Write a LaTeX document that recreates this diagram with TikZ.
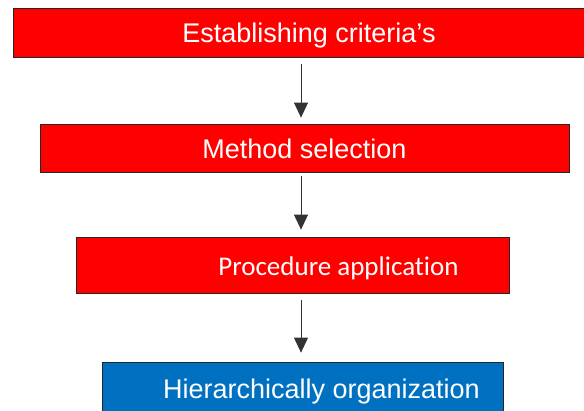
\documentclass[tikz,border=0pt]{standalone}
\usepackage{fontspec}
\setmainfont{Liberation Sans}
\newfontfamily\calibrifont[Ligatures=CommonOff]{Carlito}
\usepackage{xcolor}
\definecolor{stepred}{HTML}{FF0000}
\definecolor{stepblue}{HTML}{0070C0}
\usetikzlibrary{arrows.meta,positioning}

\begin{document}
\begin{tikzpicture}[
	x=1pt, y=-1pt,
	stage/.style = {shape=rectangle, draw=black!85, line width=0.8pt,
	text=white, inner sep=0pt, text height=20pt, text depth=0pt,
	font=\fontsize{27}{32}\selectfont},
	redbox/.style = {stage, fill=stepred},
	bluebox/.style = {stage, fill=stepblue},
	flow/.style = {-{Triangle[width=14pt,length=15pt]}, draw=black!80,
	line width=0.9pt, shorten <=7pt, shorten >=6pt}
]
\path[use as bounding box, clip] (0,0) rectangle (584,410);
\coordinate (axis) at (301,0);
\node[redbox, minimum width=592pt, minimum height=49pt] (crit) at (309,32.5) {Establishing criteria’s};
\node[redbox, minimum width=529pt, minimum height=48pt] (meth) at (304.5,148) {Method selection};
\node[redbox, minimum width=433pt, minimum height=56pt] (proc) at (292.5,265)
	{\calibrifont\hspace*{92pt}Procedure application};
\node[bluebox, minimum width=401pt, minimum height=52pt] (hier) at (302.5,388)
	{\hspace*{38pt}Hierarchically organization};
% connectors
\draw[flow] (crit.south -| axis) -- (meth.north -| axis);
\draw[flow, shorten <=4pt, shorten >=7pt] (meth.south -| axis) -- (proc.north -| axis);
\draw[flow, shorten >=9pt] (proc.south -| axis) -- (hier.north -| axis);
\end{tikzpicture}
\end{document}
